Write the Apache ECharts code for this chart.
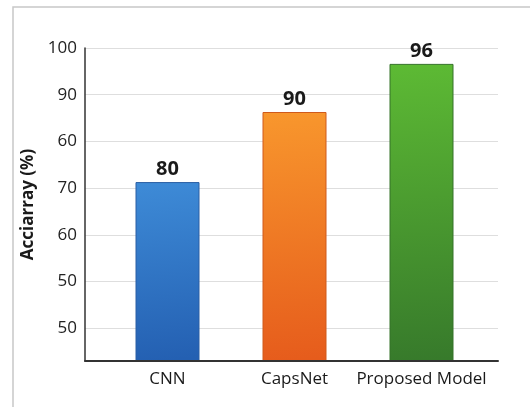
<!DOCTYPE html>
<html>
<head>
<meta charset="utf-8">
<script src="https://cdn.jsdelivr.net/npm/echarts@6/dist/echarts.min.js"></script>
<style>
  html, body { margin: 0; padding: 0; background: #fff; }
  #chart { width: 530px; height: 407px; }
</style>
</head>
<body>
<div id="chart"></div>
<script>
const categories = ['CNN', 'CapsNet', 'Proposed Model']
// bar heights read against the gridlines (nominal 10 per gridline)
const accuracy = [71.3, 86.3, 96.6]
// numbers printed above the bars
const barLabels = ['80', '90', '96']
// gridline values and the tick labels printed beside them (bottom to top)
const tickValues = [40, 50, 60, 70, 80, 90, 100]
const tickLabels = ['50', '50', '60', '70', '60', '90', '100']

const barColors = [
  ['#3e8bd7', '#2460b2'],
  ['#f8972d', '#e65c1c'],
  ['#5dba34', '#377a2b']
]
const borderColors = ['#2a5ea4', '#cf5a1c', '#357228']

const font = '"Open Sans", "DejaVu Sans", sans-serif'

const chart = echarts.init(document.getElementById('chart'), null, { renderer: 'canvas' })

const options = {
  backgroundColor: '#fff',
  animation: false,
  // 外框
  graphic: [{
    type: 'rect',
    z: -10,
    shape: { x: 13, y: 7, width: 540, height: 420 },
    style: { fill: 'none', stroke: '#c8c8c8', lineWidth: 1.5 }
  }],
  grid: [
    // axis lines and gridlines
    { left: 85, right: 32, top: 48, bottom: 46 },
    // bars
    { left: 104, right: 45, top: 48, bottom: 46 }
  ],
  xAxis: [
    {
      gridIndex: 0,
      type: 'category',
      data: categories,
      z: 5,
      axisLine: { show: true, lineStyle: { color: '#333', width: 2 } },
      axisTick: { show: false },
      axisLabel: { show: false }
    },
    {
      gridIndex: 1,
      type: 'category',
      data: categories,
      axisLine: { show: false },
      axisTick: { show: false },
      axisLabel: {
        interval: 0,
        margin: 10,
        fontFamily: font,
        fontSize: 17,
        color: '#1a1a1a'
      }
    }
  ],
  yAxis: [
    {
      gridIndex: 0,
      type: 'value',
      min: 33,
      max: 100,
      name: 'Acciarray (%)',
      nameLocation: 'middle',
      nameGap: 43,
      nameTextStyle: {
        fontFamily: font,
        fontSize: 17,
        fontWeight: 'bold',
        color: '#1a1a1a'
      },
      axisLine: { show: true, lineStyle: { color: '#333', width: 1.5 } },
      axisTick: { show: false, customValues: tickValues },
      axisLabel: {
        customValues: tickValues,
        margin: 8,
        fontFamily: font,
        fontSize: 17,
        color: '#222',
        formatter: (v) => tickLabels[tickValues.indexOf(v)] || ''
      },
      splitLine: { show: true, lineStyle: { color: '#dedede', width: 1 } }
    },
    {
      gridIndex: 1,
      type: 'value',
      min: 33,
      max: 100,
      show: false,
      splitLine: { show: false }
    }
  ],
  series: [{
    type: 'bar',
    xAxisIndex: 1,
    yAxisIndex: 1,
    barWidth: 64,
    data: accuracy.map((v, i) => ({
      value: v,
      itemStyle: {
        color: new echarts.graphic.LinearGradient(0, 0, 0.3, 1, [
          { offset: 0, color: barColors[i][0] },
          { offset: 1, color: barColors[i][1] }
        ]),
        borderColor: borderColors[i],
        borderWidth: 1
      }
    })),
    label: {
      show: true,
      position: 'top',
      distance: 3,
      formatter: (p) => barLabels[p.dataIndex],
      fontFamily: font,
      fontSize: 20,
      fontWeight: 'bold',
      color: '#1a1a1a'
    }
  }]
}

chart.setOption(options)
</script>
</body>
</html>
